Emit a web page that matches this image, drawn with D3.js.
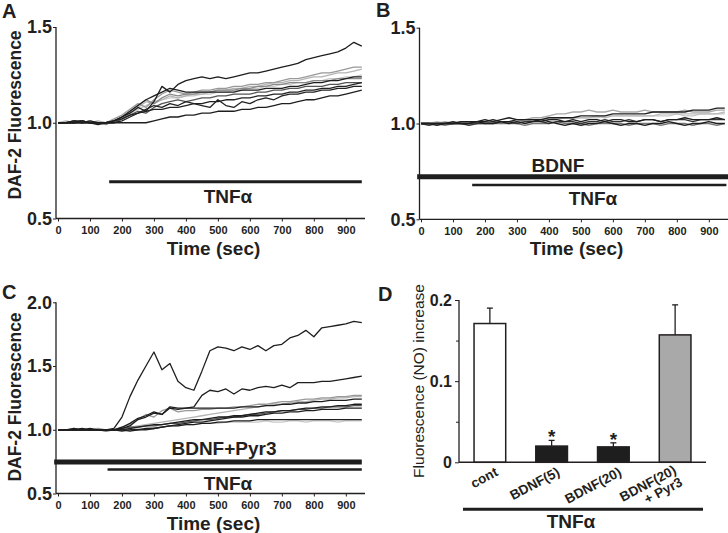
<!DOCTYPE html>
<html><head><meta charset="utf-8">
<script src="https://cdn.jsdelivr.net/npm/d3@7"></script>
<style>
body{margin:0;background:#fff}
svg{display:block}
text{font-family:"Liberation Sans",Arial,Helvetica,sans-serif;fill:#231f20}
</style>
</head><body>
<svg id="chart" width="728" height="533"></svg>
<script>
// ---------------- DATA ----------------
const times = [0,25,50,75,100,125,150,175,200,225,250,275,300,325,350,375,400,425,450,475,500,525,550,575,600,625,650,675,700,725,750,775,800,825,850,875,900,925,950];
const timeTicks = [0,100,200,300,400,500,600,700,800,900];
const yTicksAB = [0.5,1.0,1.5];
const yTicksC = [0.5,1.0,1.5,2.0];

// Panel A: TNFα alone
const tracesA = [
  [1.00,1.00,1.00,1.01,1.00,1.00,1.00,1.01,1.02,1.05,1.07,1.09,1.11,1.12,1.13,1.13,1.14,1.14,1.15,1.15,1.16,1.16,1.17,1.17,1.18,1.18,1.19,1.19,1.20,1.20,1.21,1.21,1.22,1.22,1.23,1.23,1.24,1.24,1.25],
  [1.00,1.01,1.00,1.00,1.00,1.01,1.00,1.01,1.03,1.05,1.08,1.11,1.10,1.12,1.14,1.13,1.14,1.15,1.15,1.16,1.17,1.17,1.18,1.18,1.19,1.19,1.20,1.21,1.21,1.22,1.22,1.23,1.24,1.24,1.25,1.26,1.26,1.27,1.28],
  [1.00,1.00,1.01,1.00,1.01,1.00,1.00,1.02,1.04,1.07,1.10,1.08,1.12,1.15,1.17,1.16,1.15,1.16,1.17,1.17,1.18,1.18,1.19,1.19,1.20,1.20,1.21,1.21,1.22,1.23,1.23,1.24,1.25,1.26,1.26,1.27,1.28,1.29,1.29],
  [1.00,1.00,1.00,1.01,1.00,1.00,0.99,1.01,1.03,1.06,1.09,1.12,1.10,1.13,1.15,1.14,1.15,1.15,1.16,1.16,1.17,1.17,1.17,1.18,1.18,1.19,1.19,1.20,1.20,1.21,1.21,1.21,1.22,1.22,1.22,1.23,1.23,1.23,1.23],
  [1.00,1.00,1.00,1.01,1.00,1.00,1.00,1.00,1.02,1.04,1.06,1.05,1.08,1.10,1.11,1.12,1.11,1.12,1.13,1.13,1.14,1.14,1.15,1.15,1.15,1.16,1.16,1.17,1.17,1.18,1.18,1.19,1.19,1.19,1.20,1.20,1.21,1.21,1.21],
  [1.00,1.00,1.01,1.00,1.00,1.00,1.00,1.00,1.01,1.03,1.05,1.06,1.07,1.07,1.08,1.08,1.09,1.10,1.10,1.11,1.11,1.12,1.12,1.13,1.13,1.14,1.14,1.15,1.15,1.16,1.16,1.17,1.17,1.18,1.18,1.19,1.19,1.20,1.21],
  [1.00,1.00,1.00,1.00,1.01,1.00,1.00,1.01,1.02,1.04,1.05,1.07,1.09,1.08,1.10,1.09,1.11,1.10,1.09,1.08,1.12,1.09,1.08,1.11,1.10,1.12,1.13,1.12,1.14,1.15,1.15,1.16,1.16,1.17,1.17,1.18,1.18,1.19,1.19],
  [1.00,1.00,1.00,1.00,1.00,0.99,1.00,1.00,1.00,1.00,1.00,1.00,1.01,1.02,1.03,1.03,1.04,1.04,1.05,1.05,1.06,1.06,1.06,1.07,1.07,1.08,1.08,1.09,1.10,1.10,1.11,1.12,1.12,1.13,1.14,1.14,1.15,1.16,1.17],
  [1.00,1.00,1.00,1.01,1.00,1.00,1.00,1.01,1.03,1.06,1.09,1.12,1.14,1.16,1.18,1.17,1.16,1.16,1.16,1.16,1.16,1.16,1.16,1.17,1.17,1.17,1.18,1.18,1.18,1.19,1.19,1.20,1.21,1.21,1.22,1.22,1.23,1.24,1.24],
  [1.00,1.00,1.01,1.01,1.00,1.00,1.00,1.01,1.03,1.05,1.08,1.06,1.11,1.19,1.16,1.20,1.22,1.23,1.24,1.23,1.24,1.23,1.24,1.25,1.26,1.26,1.27,1.28,1.29,1.30,1.31,1.33,1.34,1.35,1.36,1.37,1.39,1.42,1.40]
];
const colorsA = ["#c8c8c8","#b4b4b4","#999999","#8a8a8a","#555555","#222222","#222222","#1e1e1e","#1e1e1e","#1e1e1e"];

// Panel B: BDNF + TNFα
const tracesB = [
  [1.00,1.00,1.00,1.00,1.00,1.00,1.00,1.00,1.00,1.01,1.01,1.01,1.01,1.02,1.02,1.02,1.02,1.03,1.03,1.03,1.03,1.03,1.03,1.04,1.04,1.04,1.04,1.04,1.04,1.04,1.04,1.04,1.05,1.04,1.04,1.05,1.05,1.05,1.05],
  [1.00,1.00,1.00,1.01,1.00,1.01,1.00,1.00,1.01,1.01,1.00,1.01,1.01,1.02,1.03,1.03,1.04,1.05,1.05,1.06,1.06,1.07,1.06,1.06,1.07,1.06,1.06,1.06,1.07,1.06,1.06,1.06,1.06,1.07,1.06,1.06,1.06,1.07,1.07],
  [1.00,1.00,1.01,1.00,1.00,1.00,1.01,1.00,1.00,1.01,1.01,1.00,1.01,1.01,1.02,1.02,1.02,1.02,1.03,1.03,1.03,1.03,1.04,1.03,1.04,1.04,1.04,1.04,1.04,1.04,1.05,1.05,1.05,1.05,1.05,1.05,1.05,1.05,1.06],
  [1.00,1.00,1.00,0.99,1.00,1.00,1.00,1.00,1.01,1.00,1.00,1.00,1.00,0.99,1.00,1.00,1.00,1.01,1.00,1.00,1.00,0.99,1.00,1.00,1.00,1.00,0.99,1.00,1.00,1.00,0.99,1.00,1.00,1.00,0.99,1.00,1.00,0.99,1.00],
  [1.00,0.99,1.00,1.00,1.00,1.00,0.99,1.00,1.00,1.00,1.01,1.01,1.00,1.01,1.01,1.01,1.00,1.01,1.01,1.01,1.00,1.01,1.01,1.02,1.01,1.01,1.02,1.01,1.02,1.02,1.01,1.02,1.02,1.02,1.01,1.02,1.02,1.02,1.02],
  [1.00,1.00,1.00,1.00,1.00,1.01,1.01,1.01,1.02,1.01,1.02,1.03,1.02,1.02,1.02,1.01,1.02,1.02,1.01,1.02,1.01,1.02,1.02,1.01,1.02,1.02,1.01,1.01,1.02,1.02,1.01,1.02,1.02,1.03,1.02,1.02,1.02,1.03,1.02],
  [1.00,1.00,0.99,1.00,1.00,1.00,1.00,1.01,1.00,1.00,1.01,1.00,1.01,1.00,1.01,1.02,1.01,1.00,0.99,1.00,0.99,1.00,1.00,1.01,1.00,0.99,1.00,1.00,0.99,1.00,1.00,1.01,1.00,0.99,1.00,1.00,1.01,1.00,1.00],
  [1.00,1.00,1.00,1.00,1.01,1.00,1.00,1.01,1.01,1.02,1.01,1.01,1.02,1.02,1.02,1.02,1.03,1.03,1.03,1.03,1.04,1.04,1.04,1.04,1.05,1.05,1.05,1.05,1.05,1.06,1.06,1.06,1.06,1.06,1.07,1.07,1.07,1.08,1.08]
];
const colorsB = ["#c8c8c8","#a8a8a8","#bbbbbb","#777777","#333333","#1e1e1e","#1e1e1e","#1e1e1e"];

// Panel C: BDNF + Pyr3 + TNFα
const tracesC = [
  [1.00,1.00,1.00,1.00,1.00,1.00,1.00,1.00,1.00,1.00,1.01,1.01,1.02,1.02,1.03,1.03,1.04,1.04,1.05,1.05,1.05,1.06,1.06,1.06,1.06,1.06,1.07,1.06,1.06,1.07,1.07,1.06,1.07,1.07,1.07,1.06,1.07,1.07,1.07],
  [1.00,1.00,1.01,1.00,1.00,1.00,1.00,1.00,1.01,1.02,1.03,1.04,1.05,1.06,1.07,1.08,1.09,1.10,1.11,1.12,1.13,1.14,1.15,1.16,1.17,1.18,1.19,1.20,1.20,1.21,1.22,1.22,1.23,1.24,1.24,1.25,1.25,1.26,1.26],
  [1.00,1.00,1.00,1.00,1.00,1.01,1.00,1.00,1.02,1.04,1.08,1.12,1.10,1.15,1.17,1.14,1.15,1.15,1.16,1.16,1.17,1.17,1.18,1.18,1.19,1.20,1.20,1.21,1.22,1.22,1.23,1.24,1.24,1.25,1.25,1.26,1.26,1.27,1.27],
  [1.00,1.00,1.00,1.00,1.00,1.00,0.99,1.00,1.01,1.02,1.02,1.03,1.03,1.04,1.05,1.05,1.06,1.07,1.08,1.08,1.09,1.10,1.10,1.11,1.12,1.12,1.13,1.14,1.15,1.15,1.16,1.16,1.17,1.17,1.18,1.18,1.18,1.19,1.19],
  [1.00,1.00,1.00,1.00,1.00,1.00,1.00,1.00,1.00,0.99,1.00,1.00,1.01,1.02,1.03,1.03,1.04,1.04,1.05,1.05,1.06,1.06,1.07,1.07,1.07,1.08,1.08,1.08,1.08,1.08,1.08,1.08,1.08,1.08,1.08,1.08,1.08,1.08,1.08],
  [1.00,1.00,1.00,1.00,1.00,1.00,1.00,1.00,0.99,1.00,1.00,1.01,1.01,1.02,1.03,1.04,1.05,1.06,1.06,1.07,1.08,1.09,1.10,1.10,1.11,1.11,1.12,1.13,1.13,1.14,1.14,1.15,1.15,1.16,1.16,1.16,1.17,1.17,1.17],
  [1.00,1.00,1.00,1.00,1.00,1.00,1.00,1.00,1.00,1.01,1.02,1.03,1.04,1.04,1.05,1.06,1.07,1.08,1.08,1.09,1.10,1.10,1.11,1.11,1.12,1.13,1.14,1.14,1.15,1.15,1.16,1.17,1.17,1.18,1.18,1.19,1.19,1.20,1.20],
  [1.00,1.00,1.00,1.01,1.00,1.00,1.00,1.00,1.02,1.05,1.09,1.11,1.14,1.12,1.18,1.17,1.17,1.17,1.17,1.17,1.17,1.17,1.17,1.18,1.18,1.18,1.19,1.19,1.20,1.20,1.21,1.21,1.22,1.22,1.23,1.23,1.23,1.24,1.24],
  [1.00,1.00,1.00,1.00,1.01,1.00,1.00,1.00,1.01,1.03,1.08,1.10,1.13,1.12,1.17,1.16,1.17,1.18,1.27,1.31,1.30,1.32,1.28,1.32,1.31,1.33,1.34,1.33,1.35,1.33,1.37,1.37,1.37,1.38,1.38,1.39,1.40,1.41,1.42],
  [1.00,1.00,1.01,1.00,1.00,1.00,1.00,1.01,1.10,1.26,1.39,1.50,1.61,1.47,1.52,1.38,1.33,1.31,1.46,1.62,1.65,1.64,1.62,1.65,1.63,1.66,1.62,1.66,1.67,1.72,1.74,1.78,1.73,1.80,1.81,1.82,1.83,1.85,1.84]
];
const colorsC = ["#c8c8c8","#b4b4b4","#999999","#555555","#1e1e1e","#1e1e1e","#1e1e1e","#1e1e1e","#1e1e1e","#1e1e1e"];

// Treatment periods (sec)
const treatA = [{label:"TNFα", start:160, end:950}];
const treatB = [{label:"BDNF", start:-12, end:960}, {label:"TNFα", start:160, end:955}];
const treatC = [{label:"BDNF+Pyr3", start:-12, end:950}, {label:"TNFα", start:155, end:950}];

// Panel D
const dCategories = ["cont","BDNF(5)","BDNF(20)","BDNF(20)\n+ Pyr3"];
const dMeans = [0.171, 0.020, 0.019, 0.157];
const dErrors = [0.019, 0.007, 0.005, 0.037];
const dSig = ["", "*", "*", ""];
const dTicks = [0, 0.1, 0.2];
const dMinorTicks = [0.05, 0.15];

// ---------------- STYLE / LAYOUT ----------------
const dFills = ["#ffffff","#1e1e1e","#1e1e1e","#a9a9a9"];
const INK = "#231f20";
const svg = d3.select("#chart");

function tracePanel(o) {
  const g = svg.append("g");
  const x = d3.scaleLinear().domain([0, 960]).range([o.x0, o.x1]);
  const y = d3.scaleLinear().domain(o.yDomain).range(o.yRange);
  const yBase = o.yRange[0];

  // x axis
  const xa = g.append("g").attr("transform", `translate(0,${yBase})`)
    .call(d3.axisBottom(x).tickValues(timeTicks).tickSize(3).tickPadding(5).tickFormat(d3.format("d")));
  xa.select(".domain").remove();
  xa.selectAll("line").attr("stroke", INK);
  xa.selectAll("text").attr("font-size", 11).attr("font-weight", "bold").attr("fill", INK);
  g.append("line").attr("x1", o.axisX).attr("x2", o.x1).attr("y1", yBase).attr("y2", yBase)
    .attr("stroke", INK).attr("stroke-width", 1.3);

  // y axis
  const ya = g.append("g").attr("transform", `translate(${o.axisX},0)`)
    .call(d3.axisLeft(y).tickValues(o.yTicks).tickSize(3).tickPadding(1).tickFormat(d3.format(".1f")));
  ya.select(".domain").remove();
  ya.selectAll("line").attr("stroke", INK);
  ya.selectAll("text").attr("font-size", 18).attr("font-weight", "bold").attr("fill", INK);
  g.append("line").attr("x1", o.axisX).attr("x2", o.axisX)
    .attr("y1", y(o.yDomain[1])).attr("y2", yBase).attr("stroke", INK).attr("stroke-width", 1.3);

  // traces
  const line = d3.line().x((d, i) => x(times[i])).y(d => y(d));
  o.traces.forEach((tr, k) => {
    g.append("path").attr("d", line(tr)).attr("fill", "none")
      .attr("stroke", o.colors[k]).attr("stroke-width", 1.3).attr("stroke-linejoin", "round");
  });

  // treatment bars
  o.treat.forEach((t, k) => {
    const st = o.treatStyle[k];
    g.append("line").attr("x1", x(t.start)).attr("x2", x(t.end))
      .attr("y1", st.y).attr("y2", st.y).attr("stroke", "#1e1e1e").attr("stroke-width", st.w);
    g.append("text").attr("x", st.lx).attr("y", st.ly).attr("text-anchor", "middle")
      .attr("font-size", 19).attr("font-weight", "bold").text(t.label);
  });

  // titles
  g.append("text").attr("x", (o.x0 + o.x1) / 2 + 2).attr("y", yBase + 36).attr("text-anchor", "middle")
    .attr("font-size", 19).attr("font-weight", "bold").text("Time (sec)");
  if (o.yTitle) {
    g.append("text").attr("transform", `translate(${o.yTitleX},${o.yTitleY}) rotate(-90)`)
      .attr("text-anchor", "middle").attr("font-size", 17.5).attr("font-weight", "bold").text(o.yTitle);
  }
  g.append("text").attr("x", o.letterX).attr("y", o.letterY).attr("font-size", 20)
    .attr("font-weight", "bold").text(o.letter);
}

tracePanel({
  letter: "A", letterX: 2, letterY: 18,
  x0: 58, x1: 365, axisX: 56, yDomain: [0.5, 1.5], yRange: [218.5, 27], yTicks: yTicksAB,
  traces: tracesA, colors: colorsA, treat: treatA,
  treatStyle: [{y: 181.7, w: 3, lx: 228, ly: 203}],
  yTitle: "DAF-2 Fluorescence", yTitleX: 21, yTitleY: 115
});
tracePanel({
  letter: "B", letterX: 376, letterY: 17,
  x0: 421, x1: 728, axisX: 419.5, yDomain: [0.5, 1.5], yRange: [219.3, 27.7], yTicks: yTicksAB,
  traces: tracesB, colors: colorsB, treat: treatB,
  treatStyle: [{y: 176.7, w: 5, lx: 558, ly: 171.5}, {y: 185, w: 2.5, lx: 593, ly: 205}],
  yTitle: null
});
tracePanel({
  letter: "C", letterX: 2, letterY: 299,
  x0: 58, x1: 365, axisX: 56, yDomain: [0.5, 2.0], yRange: [493.5, 302.3], yTicks: yTicksC,
  traces: tracesC, colors: colorsC, treat: treatC,
  treatStyle: [{y: 462, w: 5, lx: 224, ly: 455}, {y: 469.5, w: 2.5, lx: 228, ly: 490}],
  yTitle: "DAF-2 Fluorescence", yTitleX: 21, yTitleY: 397
});

// ---------------- PANEL D ----------------
(function () {
  const g = svg.append("g");
  const x = d3.scaleBand().domain(dCategories).range([459, 706]).paddingInner(0.487).paddingOuter(0.2435);
  const y = d3.scaleLinear().domain([0, 0.2]).range([462.3, 300]);
  const axisX = 459;

  const ya = g.append("g").attr("transform", `translate(${axisX},0)`)
    .call(d3.axisLeft(y).tickValues(dTicks).tickSize(4).tickPadding(3).tickFormat(d => d === 0 ? "0" : d3.format(".1f")(d)));
  ya.select(".domain").remove();
  ya.selectAll("line").attr("stroke", INK);
  ya.selectAll("text").attr("font-size", 16).attr("font-weight", "bold").attr("fill", INK);
  const ym = g.append("g").attr("transform", `translate(${axisX},0)`)
    .call(d3.axisLeft(y).tickValues(dMinorTicks).tickSize(3).tickFormat(""));
  ym.select(".domain").remove();
  ym.selectAll("line").attr("stroke", INK);
  g.append("line").attr("x1", axisX).attr("x2", axisX).attr("y1", y(0.2)).attr("y2", y(0))
    .attr("stroke", INK).attr("stroke-width", 1.3);

  // bars
  dCategories.forEach((c, i) => {
    const bx = x(c), bw = x.bandwidth(), cx = bx + bw / 2;
    const top = y(dMeans[i] + dErrors[i]);
    g.append("line").attr("x1", cx).attr("x2", cx).attr("y1", y(dMeans[i])).attr("y2", top)
      .attr("stroke", INK).attr("stroke-width", 1.3);
    g.append("line").attr("x1", cx - 3).attr("x2", cx + 3).attr("y1", top).attr("y2", top)
      .attr("stroke", INK).attr("stroke-width", 1.3);
    g.append("rect").attr("x", bx).attr("y", y(dMeans[i])).attr("width", bw)
      .attr("height", y(0) - y(dMeans[i])).attr("fill", dFills[i])
      .attr("stroke", INK).attr("stroke-width", 1.5);
    if (dSig[i]) {
      g.append("text").attr("x", cx).attr("y", top + 3).attr("text-anchor", "middle")
        .attr("font-size", 19).attr("font-weight", "bold").text(dSig[i]);
    }
    const lines = c.split("\n");
    const t = g.append("text")
      .attr("transform", `translate(${cx + 9 - 7 * (lines.length - 1)},${475 - 2 * (lines.length - 1)}) rotate(-28)`)
      .attr("text-anchor", "end").attr("font-size", 13.5).attr("font-weight", "bold");
    lines.forEach((l, k) => t.append("tspan").attr("x", 0).attr("dy", k === 0 ? 0 : "1.0em").text(l));
  });

  // x axis line
  g.append("line").attr("x1", axisX).attr("x2", 706).attr("y1", y(0)).attr("y2", y(0))
    .attr("stroke", INK).attr("stroke-width", 1.5);

  // TNFα bar
  g.append("line").attr("x1", 463).attr("x2", 703).attr("y1", 509.3).attr("y2", 509.3)
    .attr("stroke", "#1e1e1e").attr("stroke-width", 3);
  g.append("text").attr("x", 571).attr("y", 528).attr("text-anchor", "middle")
    .attr("font-size", 19).attr("font-weight", "bold").text("TNFα");

  g.append("text").attr("transform", "translate(424,381) rotate(-90)").attr("text-anchor", "middle")
    .attr("font-size", 15.5).text("Fluorescence (NO) increase");
  g.append("text").attr("x", 378).attr("y", 301).attr("font-size", 20).attr("font-weight", "bold").text("D");
})();
</script>
</body></html>
